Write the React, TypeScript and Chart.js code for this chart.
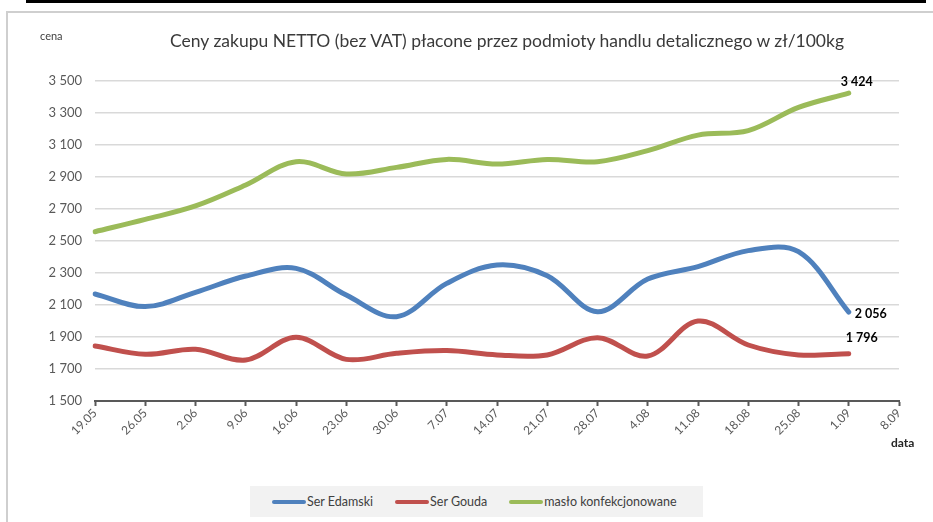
import React, { useEffect, useRef } from "react";
import { Chart, registerables } from "chart.js";

Chart.register(...registerables);

const categories = ["19.05", "26.05", "2.06", "9.06", "16.06", "23.06", "30.06", "7.07", "14.07", "21.07", "28.07", "4.08", "11.08", "18.08", "25.08", "1.09", "8.09"];
const serEdamski = [2169, 2090, 2179, 2281, 2329, 2162, 2027, 2235, 2350, 2283, 2058, 2262, 2340, 2440, 2433, 2056];
const serGouda = [1844, 1792, 1823, 1756, 1898, 1760, 1798, 1815, 1788, 1788, 1896, 1781, 2000, 1850, 1788, 1796];
const masloKonf = [2558, 2635, 2719, 2850, 2996, 2919, 2960, 3010, 2981, 3010, 2996, 3065, 3162, 3190, 3335, 3424];
const seriesNames = ["Ser Edamski", "Ser Gouda", "masło konfekcjonowane"];
const seriesColors = ["#4F81BD", "#C0504D", "#9BBB59"];
const yMin = 1500;
const yMax = 3500;
const yStep = 200;

const FONT = "Lato, 'Open Sans', sans-serif";

const fmt = (v: number) => String(v).replace(/\B(?=(\d{3})+(?!\d))/g, " ");

// label offsets relative to the last point of each series
const labelOffsets = [
  { dx: 6, dy: 2, align: "left" },
  { dx: 13, dy: -16, align: "center" },
  { dx: 8, dy: -11, align: "center" },
];

const endLabels = {
  id: "endLabels",
  afterDatasetsDraw(chart: any) {
    const ctx = chart.ctx;
    ctx.save();
    ctx.font = `bold 12.5px ${FONT}`;
    ctx.fillStyle = "#000000";
    ctx.textBaseline = "middle";
    chart.data.datasets.forEach((ds: any, i: number) => {
      const meta = chart.getDatasetMeta(i);
      let idx = ds.data.length - 1;
      while (idx >= 0 && (ds.data[idx] === null || ds.data[idx] === undefined)) idx--;
      const pt = meta.data[idx];
      if (!pt) return;
      const off = labelOffsets[i];
      ctx.textAlign = off.align;
      ctx.fillText(fmt(ds.data[idx]), pt.x + off.dx, pt.y + off.dy);
    });
    ctx.restore();
  },
};

export default function App() {
  const canvasRef = useRef<HTMLCanvasElement>(null);

  useEffect(() => {
    if (!canvasRef.current) return;
    const datasets = [serEdamski, serGouda, masloKonf].map((d, i) => ({
      label: seriesNames[i],
      data: [...d, null],
      borderColor: seriesColors[i],
      backgroundColor: seriesColors[i],
      borderWidth: 5,
      pointRadius: 0,
      tension: 0.35,
      borderCapStyle: "round" as const,
      fill: false,
    }));
    const chart = new Chart(canvasRef.current, {
      type: "line",
      data: { labels: categories, datasets },
      plugins: [endLabels],
      options: {
        animation: false,
        responsive: false,
        maintainAspectRatio: false,
        layout: { padding: { top: 81, right: 34, left: 0, bottom: 0 } },
        plugins: {
          legend: { display: false },
          title: { display: false },
          tooltip: { enabled: false },
        },
        scales: {
          x: {
            type: "category",
            offset: false,
            grid: {
              drawOnChartArea: false,
              drawTicks: true,
              tickLength: 5,
              tickWidth: 2,
              tickColor: "#595959",
            },
            border: { display: true, color: "#595959", width: 2 },
            ticks: {
              autoSkip: false,
              minRotation: 45,
              maxRotation: 45,
              padding: 0,
              color: "#595959",
              font: { family: FONT, size: 12 },
            },
            afterFit(scale: any) {
              scale.height = 121;
              scale.paddingLeft = 0;
              scale.paddingRight = 0;
            },
          },
          y: {
            min: yMin,
            max: yMax,
            grid: {
              drawTicks: false,
              color: "#d9d9d9",
              lineWidth: 1.5,
            },
            border: { display: false },
            ticks: {
              stepSize: yStep,
              padding: 13,
              color: "#595959",
              font: { family: FONT, size: 13 },
              callback: (v: any) => fmt(Number(v)),
            },
            afterFit(scale: any) {
              scale.width = 95;
            },
          },
        },
      } as any,
    });
    return () => chart.destroy();
  }, []);

  const legendItems = seriesNames.map((n, i) => (
    <div key={n} style={{ display: "flex", alignItems: "center", gap: 1 }}>
      <span style={{ display: "inline-block", width: 34, height: 4, borderRadius: 2, background: seriesColors[i] }} />
      <span>{n}</span>
    </div>
  ));

  return (
    <div style={{ position: "absolute", left: 0, top: 0, width: 933, height: 522, background: "#fff", overflow: "hidden", fontFamily: FONT }}>
      <div style={{ position: "absolute", left: 26, top: 0, width: 900, height: 3, background: "#000" }} />
      <div style={{ position: "absolute", left: 6, top: 11, width: 927, height: 2, background: "#cfcfcf" }} />
      <div style={{ position: "absolute", left: 6, top: 11, width: 2, height: 511, background: "#cfcfcf" }} />
      <canvas ref={canvasRef} width={933} height={522} style={{ position: "absolute", left: 0, top: 0, width: 933, height: 522 }} />
      <div style={{ position: "absolute", left: 40, top: 30, fontSize: 11, lineHeight: "11px", color: "#404040" }}>cena</div>
      <div style={{ position: "absolute", left: 507, top: 31, transform: "translateX(-50%)", whiteSpace: "nowrap", fontSize: 17.5, lineHeight: "20px", color: "#3a3a3a" }}>
        Ceny zakupu NETTO (bez VAT) płacone przez podmioty handlu detalicznego w zł/100kg
      </div>
      <div style={{ position: "absolute", left: 891, top: 437, fontSize: 12, lineHeight: "12px", fontWeight: "bold", color: "#262626" }}>data</div>
      <div style={{ position: "absolute", left: 250, top: 486, width: 453, height: 31, background: "#f2f2f2", display: "flex", alignItems: "center", paddingLeft: 22, boxSizing: "border-box", gap: 22, fontSize: 12.5, color: "#404040" }}>
        {legendItems}
      </div>
    </div>
  );
}
